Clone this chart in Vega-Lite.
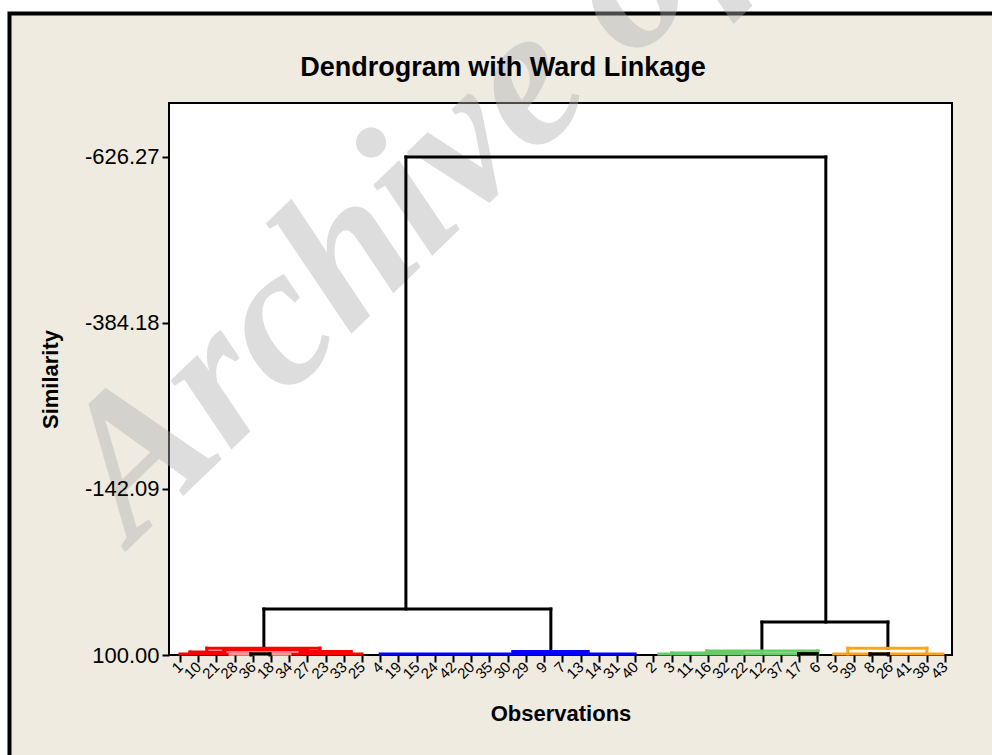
{
  "$schema": "https://vega.github.io/schema/vega-lite/v6.json",
  "width": 783,
  "height": 552,
  "autosize": {"type": "none"},
  "padding": {"left": 169, "top": 103, "right": 40, "bottom": 100},
  "background": "#ffffff",
  "config": {
    "view": {"fill": null, "stroke": null}
  },
  "datasets": {
    "watermark": [{"x": -1.6, "y": -60.4, "t": "Archive of SID"}],
    "titles": [{"x": 18.74, "y": -744.4, "t": "Dendrogram with Ward Linkage"}],
    "segments": [
      {"x": 13.41, "x2": 36.47, "y": -626.27, "y2": -626.27, "c": "k"},
      {"x": 13.41, "x2": 13.41, "y": -626.27, "y2": 33, "c": "k"},
      {"x": 36.47, "x2": 36.47, "y": -626.27, "y2": 52, "c": "k"},
      {"x": 5.61, "x2": 21.37, "y": 33, "y2": 33, "c": "k"},
      {"x": 5.61, "x2": 5.61, "y": 33, "y2": 90, "c": "k"},
      {"x": 21.37, "x2": 21.37, "y": 33, "y2": 95, "c": "k"},
      {"x": 32.96, "x2": 39.88, "y": 52, "y2": 52, "c": "k"},
      {"x": 32.96, "x2": 32.96, "y": 52, "y2": 94, "c": "k"},
      {"x": 39.88, "x2": 39.88, "y": 52, "y2": 90, "c": "k"},
      {"x": 1, "x2": 11, "y": 98.5, "y2": 98.5, "c": "r"},
      {"x": 2.48, "x2": 8.69, "y": 90, "y2": 90, "c": "r"},
      {"x": 3.4, "x2": 8.0, "y": 92.6, "y2": 92.6, "c": "r"},
      {"x": 2.48, "x2": 2.48, "y": 90, "y2": 95.6, "c": "r"},
      {"x": 1.55, "x2": 3.47, "y": 95.6, "y2": 95.6, "c": "r"},
      {"x": 1.55, "x2": 1.55, "y": 95.6, "y2": 98.5, "c": "r"},
      {"x": 8.69, "x2": 8.69, "y": 90, "y2": 95, "c": "r"},
      {"x": 7.6, "x2": 10.4, "y": 95, "y2": 95, "c": "r"},
      {"x": 10.4, "x2": 10.4, "y": 95, "y2": 98.5, "c": "r"},
      {"x": 3.75, "x2": 7.04, "y": 98.8, "y2": 98.8, "c": "p"},
      {"x": 4.9, "x2": 5.94, "y": 98.3, "y2": 98.3, "c": "k"},
      {"x": 4.9, "x2": 4.9, "y": 98.3, "y2": 100, "c": "k"},
      {"x": 5.94, "x2": 5.94, "y": 98.3, "y2": 100, "c": "k"},
      {"x": 12, "x2": 26, "y": 98.5, "y2": 98.5, "c": "b"},
      {"x": 19.29, "x2": 23.41, "y": 95, "y2": 95, "c": "b"},
      {"x": 19.29, "x2": 19.29, "y": 95, "y2": 98.5, "c": "b"},
      {"x": 23.41, "x2": 23.41, "y": 95, "y2": 98.5, "c": "b"},
      {"x": 27.3, "x2": 35.9, "y": 98.5, "y2": 98.5, "c": "g"},
      {"x": 29.94, "x2": 36.04, "y": 94, "y2": 94, "c": "g"},
      {"x": 29.94, "x2": 29.94, "y": 94, "y2": 97, "c": "g"},
      {"x": 28, "x2": 31.9, "y": 97, "y2": 97, "c": "g"},
      {"x": 28, "x2": 28, "y": 97, "y2": 98.5, "c": "g"},
      {"x": 31.9, "x2": 31.9, "y": 97, "y2": 98.5, "c": "g"},
      {"x": 36.04, "x2": 36.04, "y": 94, "y2": 98.5, "c": "g"},
      {"x": 34.97, "x2": 36.0, "y": 98, "y2": 98, "c": "k"},
      {"x": 34.97, "x2": 34.97, "y": 98, "y2": 100, "c": "k"},
      {"x": 36.9, "x2": 42.9, "y": 98.5, "y2": 98.5, "c": "o"},
      {"x": 37.68, "x2": 42.02, "y": 90, "y2": 90, "c": "o"},
      {"x": 37.68, "x2": 37.68, "y": 90, "y2": 98.5, "c": "o"},
      {"x": 42.02, "x2": 42.02, "y": 90, "y2": 98.5, "c": "o"},
      {"x": 38.9, "x2": 39.9, "y": 98.3, "y2": 98.3, "c": "k"},
      {"x": 38.9, "x2": 38.9, "y": 98.3, "y2": 100, "c": "k"},
      {"x": 39.9, "x2": 39.9, "y": 98.3, "y2": 100, "c": "k"}
    ]
  },
  "encoding": {
    "x": {
      "field": "x",
      "type": "quantitative",
      "scale": {"domain": [0.4, 43.4], "nice": false, "zero": false},
      "axis": {
        "title": "Observations",
        "zindex": 1,
        "values": [1,2,3,4,5,6,7,8,9,10,11,12,13,14,15,16,17,18,19,20,21,22,23,24,25,26,27,28,29,30,31,32,33,34,35,36,37,38,39,40,41,42,43],
        "labelExpr": "['1','10','21','28','36','18','34','27','23','33','25','4','19','15','24','42','20','35','30','29','9','7','13','14','31','40','2','3','11','16','32','22','12','37','17','6','5','39','8','26','41','38','43'][datum.value - 1]",
        "labelAngle": -45,
        "labelAlign": "right",
        "labelBaseline": "middle",
        "labelFont": "Liberation Sans",
        "labelFontSize": 15,
        "labelColor": "#000000",
        "labelPadding": 2,
        "labelOverlap": false,
        "labelFlush": false,
        "labelBound": false,
        "tickColor": "#000000",
        "tickWidth": 2,
        "tickSize": 7,
        "domain": false,
        "grid": false,
        "titleFont": "Liberation Sans",
        "titleFontSize": 22,
        "titleFontWeight": "bold",
        "titleColor": "#000000",
        "titlePadding": 22
      }
    },
    "y": {
      "field": "y",
      "type": "quantitative",
      "scale": {"domain": [100, -705], "nice": false, "zero": false},
      "axis": {
        "title": "Similarity",
        "zindex": 1,
        "values": [-626.27, -384.18, -142.09, 100],
        "labelExpr": "datum.value < 0 ? '-' + format(-datum.value, '.2f') : format(datum.value, '.2f')",
        "labelFont": "Liberation Sans",
        "labelFontSize": 22,
        "labelColor": "#000000",
        "labelPadding": 3,
        "labelFlush": false,
        "labelBound": false,
        "labelOverlap": false,
        "tickColor": "#000000",
        "tickWidth": 2,
        "tickSize": 7,
        "domain": false,
        "grid": false,
        "titleFont": "Liberation Sans",
        "titleFontSize": 22,
        "titleFontWeight": "bold",
        "titleColor": "#000000",
        "titlePadding": 22
      }
    }
  },
  "layer": [
    {
      "data": {"values": [{"x": -8.36, "x2": 47, "y": -835.5, "y2": 280}]},
      "mark": {"type": "rect", "fill": "#efebe1", "stroke": "#000000", "strokeWidth": 4},
      "encoding": {
        "x2": {"field": "x2"},
        "y2": {"field": "y2"}
      }
    },
    {
      "data": {"values": [{"x": 0.4, "x2": 43.4, "y": 100, "y2": -705}]},
      "mark": {"type": "rect", "fill": "#ffffff", "stroke": "#000000", "strokeWidth": 2},
      "encoding": {
        "x2": {"field": "x2"},
        "y2": {"field": "y2"}
      }
    },
    {
      "data": {"name": "watermark"},
      "mark": {
        "type": "text",
        "font": "Liberation Serif",
        "fontStyle": "italic",
        "fontWeight": "bold",
        "fontSize": 200,
        "angle": -44,
        "align": "left",
        "baseline": "alphabetic",
        "color": "#b0b0b0",
        "opacity": 0.42
      },
      "encoding": {"text": {"field": "t"}}
    },
    {
      "data": {"name": "titles"},
      "mark": {
        "type": "text",
        "font": "Liberation Sans",
        "fontWeight": "bold",
        "fontSize": 27,
        "align": "center",
        "baseline": "alphabetic",
        "color": "#000000"
      },
      "encoding": {"text": {"field": "t"}}
    },
    {
      "data": {"name": "segments"},
      "mark": {"type": "rule", "strokeWidth": 3, "strokeCap": "square"},
      "encoding": {
        "x2": {"field": "x2"},
        "y2": {"field": "y2"},
        "color": {
          "field": "c",
          "type": "nominal",
          "scale": {
            "domain": ["k", "r", "p", "b", "g", "o"],
            "range": ["#000000", "#ff0000", "#ff9999", "#0000ff", "#66cc66", "#ffa31a"]
          },
          "legend": null
        }
      }
    }
  ]
}
